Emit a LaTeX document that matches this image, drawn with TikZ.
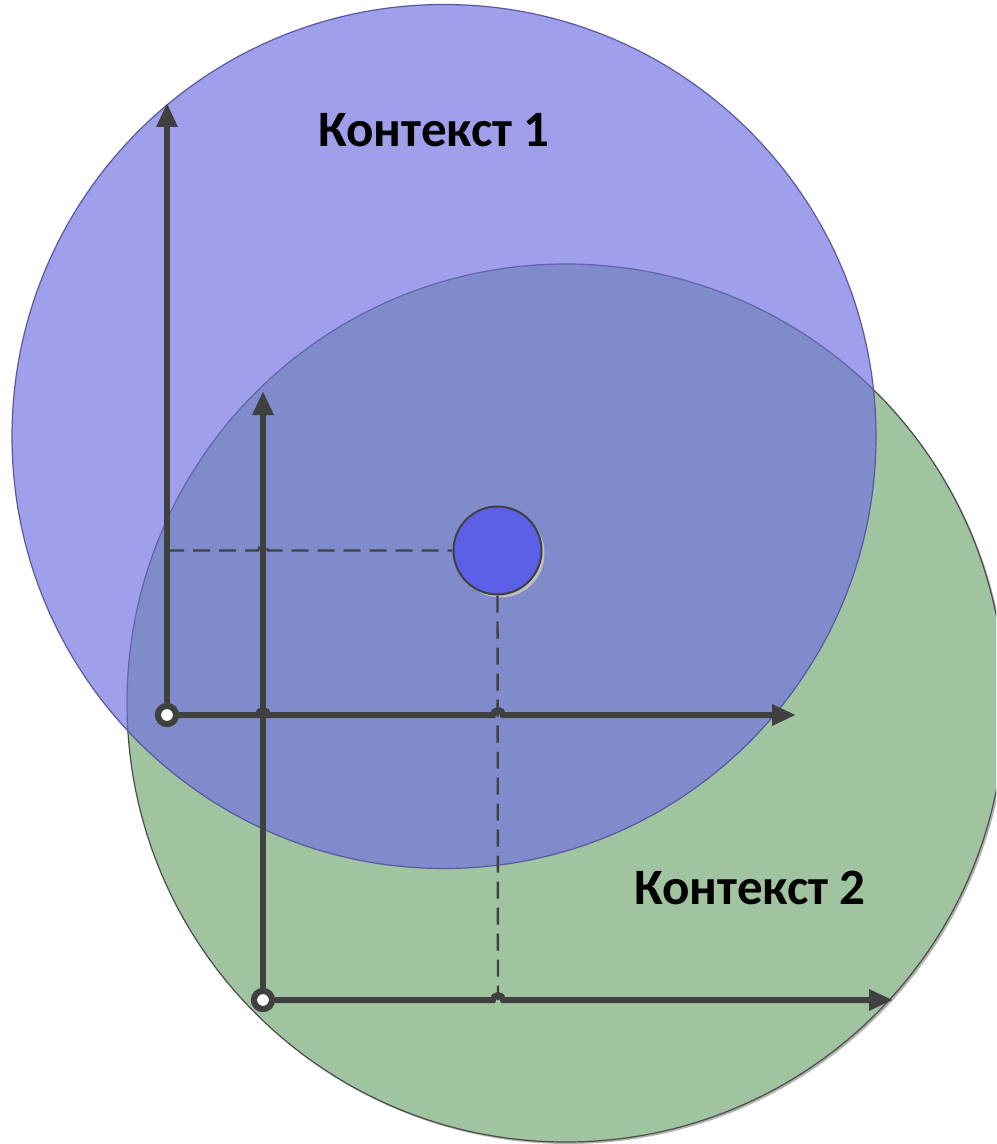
\documentclass[tikz,border=0pt]{standalone}
\usepackage{fontspec}
\setmainfont{Carlito}
\usetikzlibrary{arrows.meta}
\definecolor{ctxblue}{RGB}{110,110,226}
\definecolor{ctxblueline}{RGB}{88,88,160}
\definecolor{ctxgreen}{RGB}{160,196,160}
\definecolor{axisgray}{RGB}{64,64,64}
\definecolor{pointblue}{RGB}{92,96,230}
\tikzset{
    ctx/.style={draw=#1, line width=0.6pt},
    axis/.style={-{Triangle[length=12pt,width=10pt]}, line width=3pt, draw=axisgray},
    origin/.style={circle, draw=axisgray, fill=white, line width=3pt,
                   inner sep=0pt, minimum size=9pt},
    proj/.style={draw=axisgray, line width=1.2pt, dash pattern=on 8.5pt off 4.5pt},
    lbl/.style={font=\fontsize{25.5}{30}\selectfont\bfseries, text=black},
}

\begin{document}
\begin{tikzpicture}[x=0.5pt, y=-0.5pt]
    \useasboundingbox (0,0) rectangle (996,1144);
    \clip (0,0) rectangle (996,1144);

    % contexts
    \fill[black!30] (568,705) circle[radius=219.5pt];
    \filldraw[ctx=black!70, fill=ctxgreen] (566,703) circle[radius=219.5pt];
    \fill[ctxblue, fill opacity=0.66] (444,436.5) circle[radius=216pt];
    \draw[ctx=ctxblueline] (444,436.5) circle[radius=216pt];

    \node[lbl] (ctx1lbl) at (434,130) {Контекст 1};
    \node[lbl] (ctx2lbl) at (750,888) {Контекст 2};

    % frames
    \node[origin] (o1) at (167,715) {};
    \node[origin] (o2) at (263,1000) {};
    \coordinate (y1tip) at (167,103);
    \coordinate (x1tip) at (796,715);
    \coordinate (y2tip) at (263,391);
    \coordinate (x2tip) at (893,1000);
    \coordinate (j1a) at (263,715);
    \coordinate (j1b) at (498,715);
    \coordinate (j2) at (498,1000);
    \coordinate (j3) at (263,550.5);

    % point
    \node[circle, minimum size=44pt, inner sep=0pt, fill=pointblue,
          draw=axisgray, line width=1pt,
          preaction={fill=black!25, transform canvas={xshift=1.5pt, yshift=-1.5pt}}]
          (pt) at (497.5,550.5) {};

    \draw[proj] (o1 |- pt) -- ([xshift=-2.5pt]j3) arc[start angle=180, end angle=0, radius=2.5pt]
        -- (pt.west);
    \draw[proj] (pt.south) -- (j2);

    \draw[axis] (o1) -- (y1tip);
    \draw[axis] (o2) -- (y2tip);
    \draw[axis] (o1) -- ([xshift=-2.5pt]j1a) arc[start angle=180, end angle=0, radius=2.5pt]
        -- ([xshift=-2.5pt]j1b) arc[start angle=180, end angle=0, radius=2.5pt] -- (x1tip);
    \draw[axis] (o2) -- ([xshift=-2.5pt]j2) arc[start angle=180, end angle=0, radius=2.5pt]
        -- (x2tip);

    \node[origin] at (o1) {};
    \node[origin] at (o2) {};
\end{tikzpicture}
\end{document}
